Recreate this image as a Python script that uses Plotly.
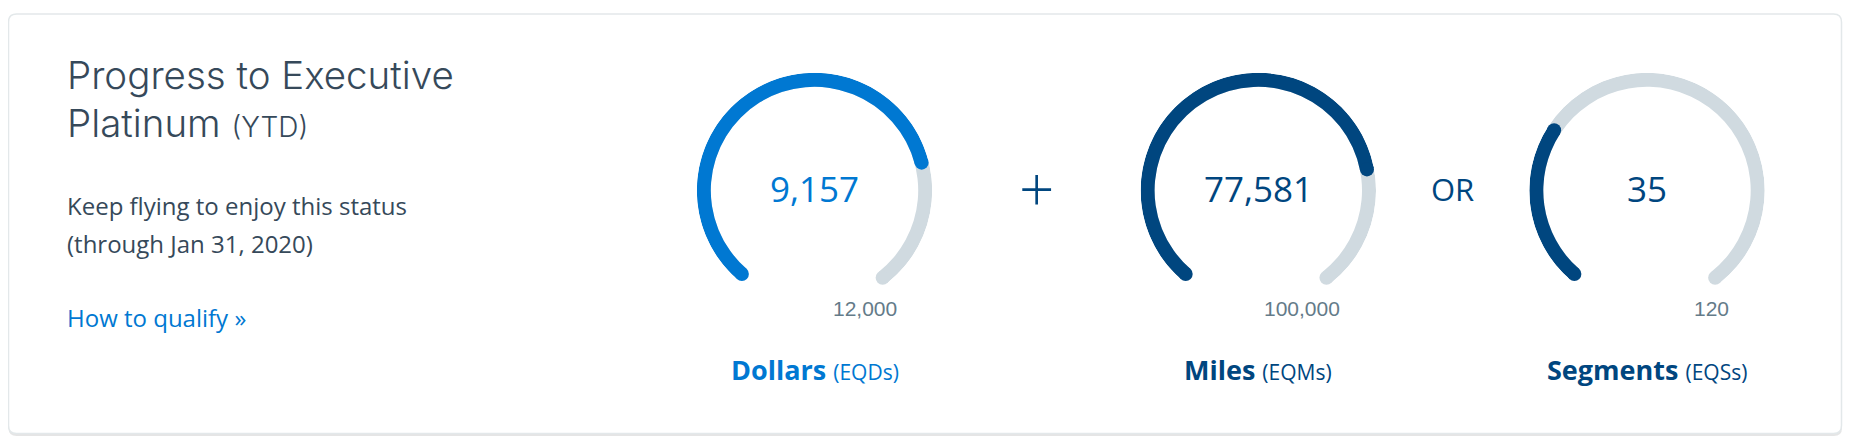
import plotly.graph_objects as go

# The page body has an 8px margin, so the figure is sized to fit inside it.
OFF = 8
SCREEN_W, SCREEN_H = 1854, 445
W, H = SCREEN_W - 2 * OFF, SCREEN_H - 2 * OFF

# ---- data ----
categories = ["Dollars", "Miles", "Segments"]
abbrevs = ["EQDs", "EQMs", "EQSs"]
values = [9157, 77581, 35]
targets = [12000, 100000, 120]
bar_colors = ["#0078D2", "#00467F", "#00467F"]
separators = ["+", "OR"]
title_lines = ["Progress to Executive", "Platinum"]
title_suffix = "(YTD)"
status_lines = ["Keep flying to enjoy this status", "(through Jan 31, 2020)"]
link_text = "How to qualify »"

# ---- styling / layout constants (screen pixels) ----
TRACK = "#D0DAE0"
DARK_TEXT = "#36495A"
LINK = "#0078D2"
MAXC = "#647B89"
FONT = "Open Sans"
TITLE_FONT = "Inter"
START_ANGLE = 229
SPAN = 281
CENTERS_X = [814.5, 1258.3, 1647.0]
CY = 190.5
R = 117.7
THICK = 14.0


def X(px):
    return (px - OFF) / W


def Y(py):
    return 1 - (py - OFF) / H


fig = go.Figure()
layout_polars = {}
t = THICK / R
for i, (v, tgt, col) in enumerate(zip(values, targets, bar_colors)):
    pid = "polar" if i == 0 else f"polar{i+1}"
    ang = v / tgt * SPAN
    # grey track
    fig.add_trace(go.Barpolar(r=[t], base=[1 - t], theta=[SPAN / 2], width=[SPAN],
                              marker=dict(color=TRACK, line=dict(width=0)),
                              subplot=pid, hoverinfo="skip", showlegend=False))
    fig.add_trace(go.Scatterpolar(r=[1 - t / 2], theta=[SPAN], mode="markers",
                                  marker=dict(size=THICK, color=TRACK, line=dict(width=0)),
                                  subplot=pid, hoverinfo="skip", showlegend=False))
    # value arc
    fig.add_trace(go.Barpolar(r=[t], base=[1 - t], theta=[ang / 2], width=[ang],
                              marker=dict(color=col, line=dict(width=0)),
                              subplot=pid, hoverinfo="skip", showlegend=False))
    fig.add_trace(go.Scatterpolar(r=[1 - t / 2, 1 - t / 2], theta=[0, ang], mode="markers",
                                  marker=dict(size=THICK, color=col, line=dict(width=0)),
                                  subplot=pid, hoverinfo="skip", showlegend=False))
    cx = CENTERS_X[i]
    layout_polars[pid] = dict(
        domain=dict(x=[X(cx - R), X(cx + R)], y=[Y(CY + R), Y(CY - R)]),
        bgcolor="rgba(0,0,0,0)",
        radialaxis=dict(range=[0, 1], visible=False, showgrid=False),
        angularaxis=dict(rotation=START_ANGLE, direction="clockwise", visible=False,
                         showgrid=False, showline=False, ticks=""),
        hole=0,
    )

annotations = []


def text(x, baseline, s, size, color, anchor="left", family=FONT, weight=400, k=0.388):
    annotations.append(dict(
        x=X(x), y=Y(baseline - k * size), xref="paper", yref="paper",
        xanchor=anchor, yanchor="middle", showarrow=False, text=s,
        font=dict(family=family, size=size, color=color, weight=weight),
        borderpad=0,
    ))


# left block
text(66, 89.3, title_lines[0], 38.5, DARK_TEXT, family=TITLE_FONT, weight=300, k=0.3635)
text(66, 136.7, f"{title_lines[1]} <span style='font-size:28px'>{title_suffix}</span>", 38.5,
     DARK_TEXT, family=TITLE_FONT, weight=300, k=0.3635)
text(66, 215, status_lines[0], 24, DARK_TEXT)
text(66, 252.7, status_lines[1], 24, DARK_TEXT)
text(66, 326.7, link_text, 24, LINK)

# gauge texts
for i, (cat, ab, v, tgt, col) in enumerate(zip(categories, abbrevs, values, targets, bar_colors)):
    cx = CENTERS_X[i]
    text(cx, 202, f"{v:,}", 35, col, anchor="center", weight=400)
    text(cx + 83, 316, f"{tgt:,}", 21, MAXC, anchor="right", family="Liberation Sans", k=0.347)
    text(cx, 380, f"<b>{cat}</b> <span style='font-size:21px'>({ab})</span>", 27, col, anchor="center")

# separators
text((CENTERS_X[0] + CENTERS_X[1]) / 2, 212, separators[0], 62, "#00467F", anchor="center", weight=300)
text((CENTERS_X[1] + CENTERS_X[2]) / 2, 201, separators[1], 31, "#00467F", anchor="center")


def rounded_rect(x0, y0, x1, y1, r):
    return (f"M {X(x0 + r)},{Y(y0)} L {X(x1 - r)},{Y(y0)} Q {X(x1)},{Y(y0)} {X(x1)},{Y(y0 + r)} "
            f"L {X(x1)},{Y(y1 - r)} Q {X(x1)},{Y(y1)} {X(x1 - r)},{Y(y1)} "
            f"L {X(x0 + r)},{Y(y1)} Q {X(x0)},{Y(y1)} {X(x0)},{Y(y1 - r)} "
            f"L {X(x0)},{Y(y0 + r)} Q {X(x0)},{Y(y0)} {X(x0 + r)},{Y(y0)} Z")


shapes = [
    dict(type="path", path=rounded_rect(8.5, 15, 1842, 436, 8), xref="paper", yref="paper",
         fillcolor="rgba(0,0,0,0.10)", line=dict(width=0), layer="below"),
    dict(type="path", path=rounded_rect(8.5, 14, 1841.5, 433.5, 8), xref="paper", yref="paper",
         fillcolor="white", line=dict(color="#E3E8EA", width=1.5), layer="below"),
]

fig.update_layout(
    width=W, height=H,
    margin=dict(l=0, r=0, t=0, b=0),
    paper_bgcolor="white", plot_bgcolor="white",
    showlegend=False,
    annotations=annotations,
    shapes=shapes,
    **layout_polars,
)

fig.write_html("out.html")
